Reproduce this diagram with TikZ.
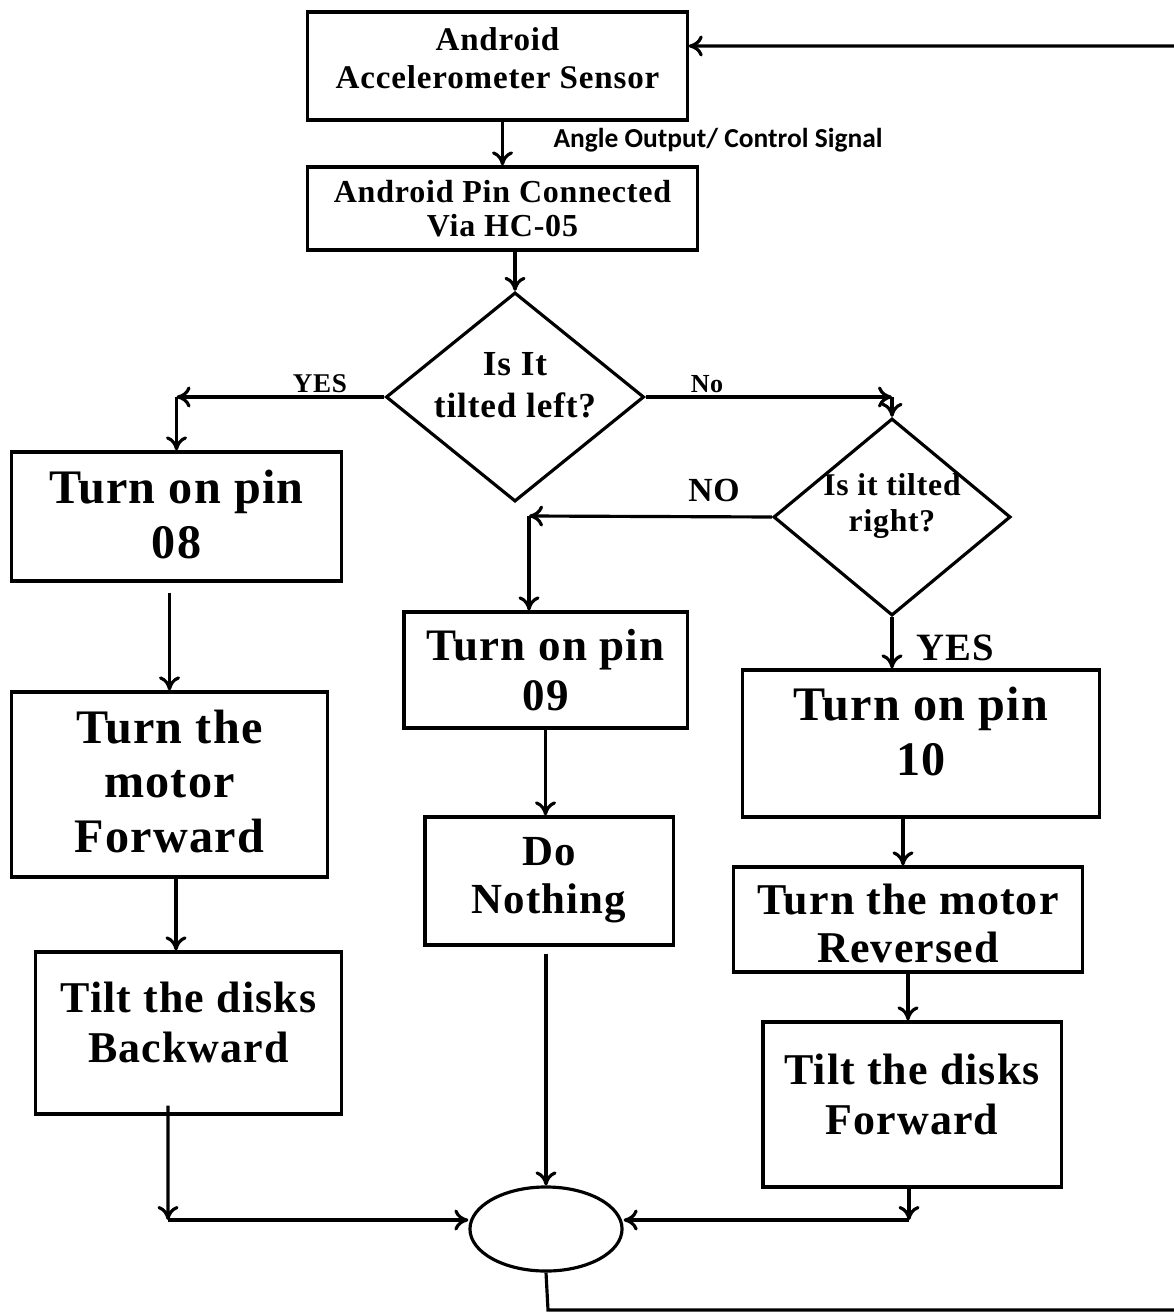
\documentclass[tikz,border=0pt]{standalone}
\usepackage{fontspec}
\setmainfont{Liberation Serif}[LetterSpace=2.5]
\newfontfamily\calfont{Carlito}
\usetikzlibrary{shapes.geometric,arrows.meta,calc}
\newcommand\myfs[2]{\fontsize{#1}{#2}\selectfont}
\begin{document}
\begin{tikzpicture}[x=0.01cm,y=-0.01cm,
  line width=0.9pt,
  box/.style={draw,rectangle,inner sep=0pt},
  dia/.style={draw,diamond,inner sep=0pt},
  txt/.style={align=center,inner sep=0pt},
  arr/.style={-{To[length=4pt,width=6pt]}},
  lab/.style={inner sep=0pt}]
\useasboundingbox (0,0) rectangle (1173,1313);
% shapes
\node[box,minimum width=3.79cm,minimum height=1.08cm] (A) at (497.5,66) {};
\node[box,minimum width=3.89cm,minimum height=0.83cm] (B) at (502.5,208.5) {};
\node[dia,minimum width=2.58cm,minimum height=2.09cm] (D1) at (515,397) {};
\node[dia,minimum width=2.37cm,minimum height=1.97cm] (D2) at (892,517) {};
\node[box,minimum width=3.29cm,minimum height=1.29cm] (P8) at (176.5,516.5) {};
\node[box,minimum width=3.15cm,minimum height=1.85cm] (F) at (169.5,784.5) {};
\node[box,minimum width=3.05cm,minimum height=1.62cm] (Bk) at (188.5,1033) {};
\node[box,minimum width=2.83cm,minimum height=1.16cm] (P9) at (545.5,670) {};
\node[box,minimum width=2.48cm,minimum height=1.28cm] (DN) at (549,881) {};
\node[box,minimum width=3.56cm,minimum height=1.47cm] (P10) at (921,743.5) {};
\node[box,minimum width=3.48cm,minimum height=1.05cm] (R) at (908,919.5) {};
\node[box,minimum width=2.98cm,minimum height=1.65cm] (TF) at (912,1104.5) {};
\node[draw,ellipse,minimum width=1.52cm,minimum height=0.84cm,inner sep=0pt] (E) at (546,1229) {};
% texts
\node[txt,font=\bfseries\myfs{9.4}{10.8}] (At) at ([yshift=0.08cm]A.center) {Android\\Accelerometer Sensor};
\node[txt,font=\bfseries\myfs{9.1}{9.7}] (Bt) at (B.center) {Android Pin Connected\\Via HC-05};
\node[txt,font=\bfseries\myfs{10}{12}] (D1t) at ([yshift=0.12cm]D1.center) {Is It\\tilted left?};
\node[txt,font=\bfseries\myfs{9}{10.2}] (D2t) at ([yshift=0.11cm]D2.center) {Is it tilted\\right?};
\node[txt,font=\bfseries\myfs{13.7}{15.6}] (P8t) at ([yshift=0.02cm]P8.center) {Turn on pin\\08};
\node[txt,font=\bfseries\myfs{13.7}{15.6}] (Ft) at ([yshift=0.03cm]F.center) {Turn the\\motor\\Forward};
\node[txt,font=\bfseries\myfs{12.5}{14.2}] (Bkt) at ([yshift=0.11cm]Bk.center) {Tilt the disks\\Backward};
\node[txt,font=\bfseries\myfs{12.8}{14}] (P9t) at (P9.center) {Turn on pin\\09};
\node[txt,font=\bfseries\myfs{12.2}{13.7}] (DNt) at ([yshift=0.01cm]DN.center) {Do\\Nothing};
\node[txt,font=\bfseries\myfs{13.7}{15.6}] (P10t) at ([yshift=0.12cm]P10.center) {Turn on pin\\10};
\node[txt,font=\bfseries\myfs{12.5}{13.7}] (Rt) at ([yshift=-0.04cm]R.center) {Turn the motor\\Reversed};
\node[txt,font=\bfseries\myfs{12.5}{14.2}] (TFt) at ([yshift=0.1cm]TF.center) {Tilt the disks\\Forward};
% labels
\node[lab,font=\calfont\bfseries\myfs{7.8}{9}] (lang) at (718,140) {Angle Output/ Control Signal};
\node[lab,font=\bfseries\myfs{7.7}{9}] (lyes1) at (320,384) {YES};
\node[lab,font=\bfseries\myfs{7.4}{9}] (lno1) at (707,384) {No};
\node[lab,font=\bfseries\myfs{9.6}{11}] (lno2) at (714,490) {NO};
\node[lab,font=\bfseries\myfs{11}{13}] (lyes2) at (955,648) {YES};
% coordinates
\coordinate (yc) at (176.5,397);
\coordinate (nc) at (892,397);
\coordinate (nc2) at (529,516);
\coordinate (lc) at (168,1220);
\coordinate (rc) at (909,1220);
\coordinate (lb) at (548,1310);
\coordinate (rb) at (1185,1310);
\coordinate (rt) at (1185,46);
% connectors
\draw[arr] (A.south -| B.north) -- (B.north);
\draw[arr] (B.south -| D1.north) -- (D1.north);
\draw[arr] (D1.west) -- (yc);
\draw[arr] (yc) -- (P8.north);
\draw[arr] (D1.east) -- (nc);
\draw[arr] (nc) -- (D2.north);
\draw[arr] (D2.west) -- (nc2);
\draw[arr] (nc2) -- (nc2 |- P9.north);
\draw[arr] (D2.south) -- (D2.south |- P10.north);
\draw[arr,shorten <=0.1cm] (P8.south -| F.north) -- (F.north);
\draw[arr] ([xshift=0.065cm]F.south) -- ([xshift=0.065cm]F.south |- Bk.north);
\draw[arr] ([xshift=-0.205cm,yshift=0.1cm]Bk.south) -- (lc);
\draw[arr] (lc) -- (lc -| E.west);
\draw[arr] (P9.south) -- (P9.south |- DN.north);
\draw[arr,shorten <=0.07cm] (E.north |- DN.south) -- (E.north);
\draw[arr] ([xshift=-0.18cm]P10.south) -- ([xshift=-0.18cm]P10.south |- R.north);
\draw[arr] (R.south) -- (R.south |- TF.north);
\draw[arr] (TF.south -| rc) -- (rc);
\draw[arr] (rc) -- (rc -| E.east);
\draw[arr] (E.south) -- (lb) -- (rb) -- (rt) -- (rt -| A.east);
\end{tikzpicture}
\end{document}
